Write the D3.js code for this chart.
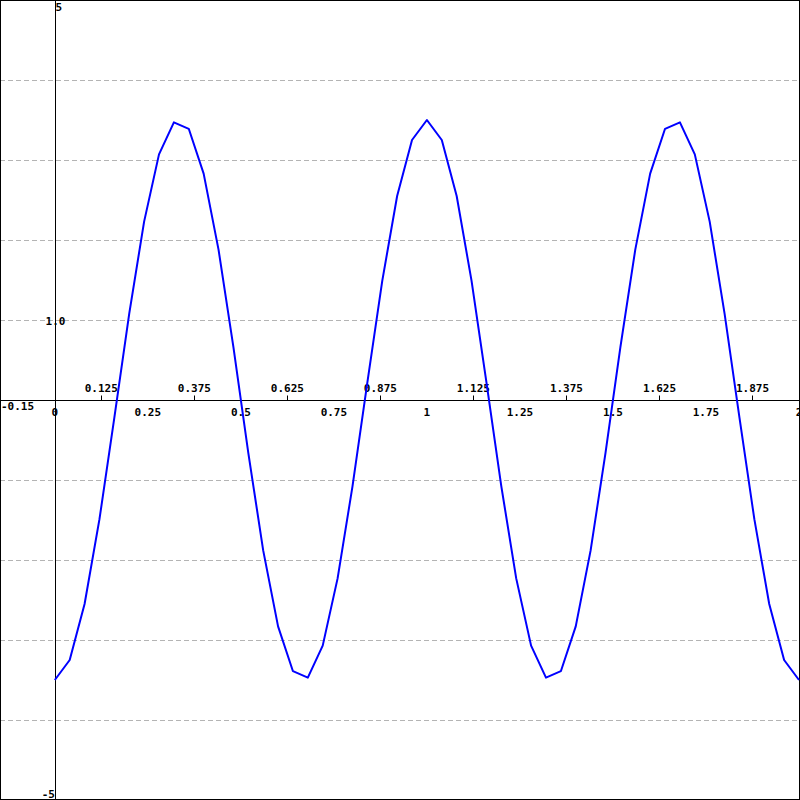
<!DOCTYPE html>
<html>
<head>
<meta charset="utf-8">
<script src="https://cdn.jsdelivr.net/npm/d3@7"></script>
<style>
html,body{margin:0;padding:0;background:#fff;}
svg{display:block;}
text{font-family:"DejaVu Sans Mono","Liberation Mono",monospace;font-weight:bold;font-size:11px;fill:#000;}
</style>
</head>
<body>
<svg id="chart" width="800" height="800"></svg>
<script>
// x samples (step 0.04 from 0 to 2)
const xValues = [0,0.04,0.08,0.12,0.16,0.2,0.24,0.28,0.32,0.36,0.4,0.44,0.48,0.52,0.56,0.6,0.64,0.68,0.72,0.76,0.8,0.84,0.88,0.92,0.96,1,
  1.04,1.08,1.12,1.16,1.2,1.24,1.28,1.32,1.36,1.4,1.44,1.48,1.52,1.56,1.6,1.64,1.68,1.72,1.76,1.8,1.84,1.88,1.92,1.96,2];
const yValues = [-3.5,-3.25,-2.55,-1.49,-0.22,1.08,2.23,3.07,3.47,3.39,2.83,1.88,0.66,-0.66,-1.88,-2.83,-3.39,-3.47,-3.07,-2.23,-1.08,0.22,1.49,2.55,3.25,3.5,
  3.25,2.55,1.49,0.22,-1.08,-2.23,-3.07,-3.47,-3.39,-2.83,-1.88,-0.66,0.66,1.88,2.83,3.39,3.47,3.07,2.23,1.08,-0.22,-1.49,-2.55,-3.25,-3.5];
const xMajorTicks = [0,0.25,0.5,0.75,1,1.25,1.5,1.75,2];
const xMajorLabels = ["0","0.25","0.5","0.75","1","1.25","1.5","1.75","2"];
const xMinorTicks = [0.125,0.375,0.625,0.875,1.125,1.375,1.625,1.875];
const xMinorLabels = ["0.125","0.375","0.625","0.875","1.125","1.375","1.625","1.875"];
const yGrid = [-4,-3,-2,-1,1,2,3,4];
const xDomain = [-0.15, 2];
const yDomain = [-5, 5];

const W = 800, H = 800;
const svg = d3.select("#chart");
const x = d3.scaleLinear().domain(xDomain).range([-1, 799]);
const y = d3.scaleLinear().domain(yDomain).range([800, 0]);
const x0 = Math.round(x(0)) + 0.5;
const y0 = Math.round(y(0)) + 0.5;

// gridlines
svg.append("g").selectAll("line").data(yGrid).join("line")
  .attr("x1", 0).attr("x2", W)
  .attr("y1", d => Math.round(y(d)) + 0.5).attr("y2", d => Math.round(y(d)) + 0.5)
  .attr("stroke", "#b4b4b4").attr("stroke-width", 1).attr("stroke-dasharray", "5,3");

// border
svg.append("rect").attr("x", 0.5).attr("y", 0.5).attr("width", W - 1).attr("height", H - 1)
  .attr("fill", "none").attr("stroke", "#000").attr("stroke-width", 1);

// axes lines
svg.append("line").attr("x1", 0).attr("x2", W).attr("y1", y0).attr("y2", y0).attr("stroke", "#000");
svg.append("line").attr("x1", x0).attr("x2", x0).attr("y1", 0).attr("y2", H).attr("stroke", "#000");

// minor ticks (up) with labels above
svg.append("g").selectAll("line").data(xMinorTicks).join("line")
  .attr("x1", d => Math.round(x(d)) + 0.5).attr("x2", d => Math.round(x(d)) + 0.5)
  .attr("y1", y0 - 5).attr("y2", y0).attr("stroke", "#000");
svg.append("g").selectAll("text").data(xMinorTicks).join("text")
  .attr("x", d => x(d)).attr("y", y(0) - 8).attr("text-anchor", "middle")
  .text((d, i) => xMinorLabels[i]);

// major labels below
svg.append("g").selectAll("text").data(xMajorTicks).join("text")
  .attr("x", d => x(d)).attr("y", y(0) + 16).attr("text-anchor", "middle")
  .text((d, i) => xMajorLabels[i]);

// x min label
svg.append("text").attr("x", 1).attr("y", y(0) + 10).attr("text-anchor", "start").text("-0.15");

// y labels
svg.append("text").attr("x", x0).attr("y", 11).attr("text-anchor", "start").text("5");
svg.append("text").attr("x", x0 - 0.5).attr("y", 798).attr("text-anchor", "end").text("-5");
svg.append("text").attr("x", x0).attr("y", y(1) + 5).attr("text-anchor", "middle").text("1.0");

// curve
const pts = xValues.map((v, i) => [v, yValues[i]]);
const line = d3.line().x(d => x(d[0])).y(d => y(d[1]));
svg.append("path").datum(pts).attr("d", line)
  .attr("fill", "none").attr("stroke", "#0000ff").attr("stroke-width", 2).attr("stroke-linejoin", "round");
</script>
</body>
</html>
